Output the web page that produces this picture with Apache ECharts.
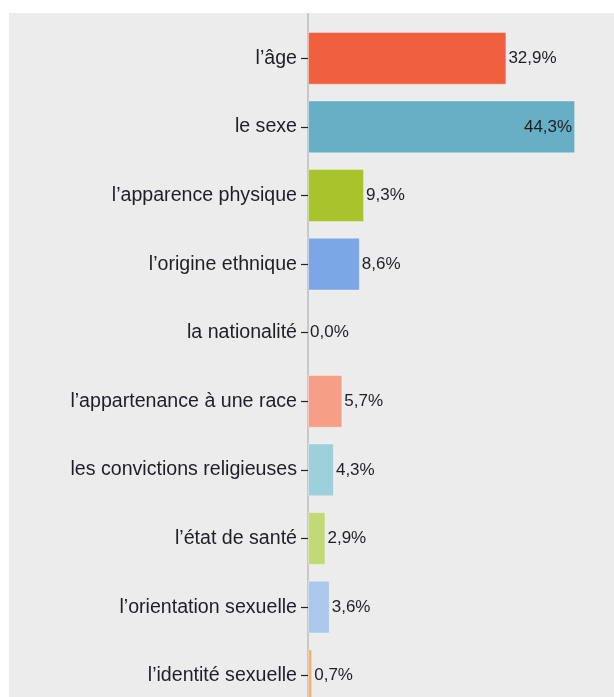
<!DOCTYPE html>
<html>
<head>
<meta charset="utf-8">
<script src="https://cdn.jsdelivr.net/npm/echarts@6/dist/echarts.min.js"></script>
<style>
  html, body { margin: 0; padding: 0; background: #fff; }
  #wrap { width: 614px; height: 697px; box-sizing: border-box; padding: 13px 0 0 9px; overflow: hidden; }
  #chart { width: 605px; height: 684px; }
</style>
</head>
<body>
<div id="wrap"><div id="chart"></div></div>
<script>
// motifs de discrimination
let categories = [
    "l\u2019âge",
    "le sexe",
    "l\u2019apparence physique",
    "l\u2019origine ethnique",
    "la nationalité",
    "l\u2019appartenance à une race",
    "les convictions religieuses",
    "l\u2019état de santé",
    "l\u2019orientation sexuelle",
    "l\u2019identité sexuelle"
];
let values = [32.9, 44.3, 9.3, 8.6, 0.0, 5.7, 4.3, 2.9, 3.6, 0.7];
let colors = ['#f0603f', '#67afc5', '#a8c32b', '#7ba7e6', '#f5b169', '#f79e86', '#9dd0db', '#c3d978', '#adc6ec', '#f5b169'];

let myChart = echarts.init(document.getElementById('chart'));

let option = {
    backgroundColor: '#ececec',
    animation: false,
    grid: {
        left: 299,
        right: 4.5,
        top: 11,
        height: 686,  // la dernière ligne est coupée en bas
        outerBoundsMode: 'none',
        containLabel: false
    },
    xAxis: {
        type: 'value',
        min: 0,
        max: 50,
        show: false
    },
    yAxis: {
        type: 'category',
        inverse: true,
        data: categories,
        axisLine: {show: true, lineStyle: {color: '#c8c8c8', width: 2}},
        axisTick: {show: true, alignWithLabel: true, length: 7, lineStyle: {color: '#222', width: 1.2}},
        axisLabel: {
            margin: 11,
            fontFamily: 'Liberation Sans, Arial, sans-serif',
            fontSize: 19.6,
            color: '#1e1e26'
        }
    },
    // prolonge la ligne d'axe jusqu'en haut du fond gris
    graphic: [{
        type: 'line',
        shape: {x1: 299, y1: 0, x2: 299, y2: 11},
        style: {stroke: '#c8c8c8', lineWidth: 2}
    }],
    series: [{
        type: 'bar',
        barWidth: '77%',
        data: values.map(function (v, i) {
            let item = {
                value: v,
                itemStyle: {color: colors[i], borderColor: 'rgba(255,255,255,0.35)', borderWidth: v > 0 ? 1 : 0}
            };
            if (v > 40) {
                item.label = {position: 'insideRight', distance: 3};
            }
            return item;
        }),
        label: {
            show: true,
            position: 'right',
            distance: 2,
            fontFamily: 'Liberation Sans, Arial, sans-serif',
            fontSize: 17,
            color: '#1e1e26',
            formatter: function (p) {
                return p.value.toFixed(1).replace('.', ',') + '%';
            }
        }
    }]
};

myChart.setOption(option);
window.addEventListener('resize', () => {
    myChart.resize()
})
</script>
</body>
</html>
